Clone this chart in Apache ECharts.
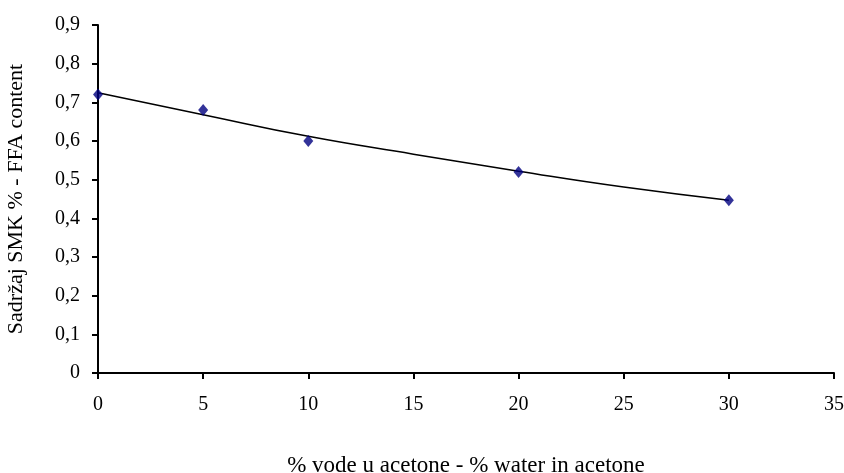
<!DOCTYPE html>
<html>
<head>
<meta charset="utf-8">
<script src="https://cdn.jsdelivr.net/npm/echarts@6/dist/echarts.min.js"></script>
<style>
  html, body { margin: 0; padding: 0; background: #fff; }
  #chart { width: 844px; height: 473px; }
</style>
</head>
<body>
<div id="chart"></div>
<script>
// measured points
const waterPct = [0, 5, 10, 20, 30]
const ffaContent = [0.72, 0.68, 0.60, 0.52, 0.447]

// trend line
const trendX = [0, 5, 10, 15, 20, 25, 30]
const trendY = [0.725, 0.668, 0.612, 0.566, 0.522, 0.481, 0.447]

const fontFamily = '"Liberation Serif", "Times New Roman", serif'
const chart = echarts.init(document.getElementById('chart'))

chart.setOption({
  animation: false,
  textStyle: { fontFamily },
  grid: { left: 98, right: 10, top: 25, bottom: 100, outerBoundsMode: 'none' },
  xAxis: {
    type: 'value',
    min: 0,
    max: 35,
    interval: 5,
    name: '% vode u acetone - % water in acetone',
    nameLocation: 'middle',
    nameGap: 81,
    nameMoveOverlap: false,
    nameTextStyle: { color: '#000', fontSize: 23, fontFamily },
    axisLine: { onZero: false, lineStyle: { color: '#000', width: 2 } },
    axisTick: { length: 6, lineStyle: { color: '#000', width: 2 } },
    axisLabel: { color: '#000', fontSize: 20, fontFamily, margin: 22 },
    splitLine: { show: false }
  },
  yAxis: {
    type: 'value',
    min: 0,
    max: 0.9,
    interval: 0.1,
    name: 'Sadržaj SMK % - FFA content',
    nameLocation: 'middle',
    nameGap: 71,
    nameMoveOverlap: false,
    nameTextStyle: { color: '#000', fontSize: 22, fontFamily },
    axisLine: { lineStyle: { color: '#000', width: 2 } },
    axisTick: { length: 6, lineStyle: { color: '#000', width: 2 } },
    axisLabel: {
      color: '#000',
      fontSize: 20,
      fontFamily,
      margin: 18,
      formatter: v => String(Math.round(v * 10) / 10).replace('.', ',')
    },
    splitLine: { show: false }
  },
  series: [
    {
      type: 'line',
      data: trendX.map((x, i) => [x, trendY[i]]),
      smooth: true,
      showSymbol: false,
      lineStyle: { color: '#000', width: 1.5 },
      z: 2
    },
    {
      type: 'scatter',
      data: waterPct.map((x, i) => [x, ffaContent[i]]),
      symbol: 'diamond',
      symbolSize: [10, 12],
      itemStyle: { color: '#000080' },
      z: 3
    }
  ]
})
</script>
</body>
</html>
